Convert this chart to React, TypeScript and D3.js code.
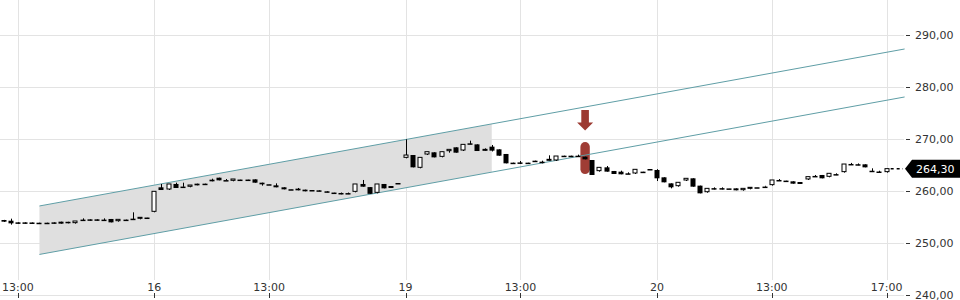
import React from 'react';
import * as d3 from 'd3';

// OHLC candles, 15-minute bars: [open, high, low, close]
// Day 15 (partial, from 12:30)
const day15Start = -21;
const day15: number[][] = [
  [254.42, 254.45, 254.05, 254.10], [254.29, 254.68, 253.53, 253.78], [253.97, 253.97, 253.72, 253.72],
  [253.97, 253.97, 253.72, 253.72], [253.95, 253.95, 253.72, 253.72], [253.90, 253.90, 253.65, 253.65],
  [253.90, 253.90, 253.65, 253.65], [253.97, 253.97, 253.72, 253.72], [254.10, 254.10, 253.72, 253.72],
  [254.08, 254.08, 253.78, 253.80], [253.72, 254.23, 253.72, 254.23], [254.50, 254.74, 254.23, 254.35],
  [254.55, 254.55, 254.29, 254.29], [254.55, 254.55, 254.29, 254.29], [254.50, 254.74, 254.35, 254.35],
  [254.62, 254.62, 253.97, 253.97], [254.10, 254.55, 254.10, 254.55], [254.50, 254.50, 254.30, 254.30],
  [254.68, 255.90, 254.42, 254.42], [254.55, 254.94, 254.55, 254.94], [254.90, 254.90, 254.86, 254.86],
];
// Day 16
const day16Start = 0;
const day16: number[][] = [
  [255.90, 259.94, 255.90, 259.94], [260.71, 261.35, 260.19, 260.19], [260.19, 261.35, 260.19, 261.35],
  [261.35, 261.60, 260.58, 260.58], [260.85, 261.60, 260.80, 260.80], [260.71, 261.15, 260.71, 261.15],
  [261.41, 261.41, 261.09, 261.09], [261.41, 261.41, 261.15, 261.15], [262.18, 262.37, 261.86, 261.86],
  [262.56, 262.56, 262.05, 262.05], [262.10, 262.31, 262.05, 262.05], [261.86, 262.31, 261.86, 262.31],
  [262.20, 262.20, 262.15, 262.15], [262.20, 262.20, 262.15, 262.15], [262.24, 262.24, 261.60, 261.60],
  [261.60, 261.60, 261.03, 261.28], [261.30, 261.30, 261.25, 261.25], [261.09, 261.47, 260.71, 260.71],
  [260.71, 260.71, 260.32, 260.32], [260.34, 260.34, 260.30, 260.30], [260.45, 260.58, 260.13, 260.13],
  [260.26, 260.26, 259.94, 259.94], [260.19, 260.19, 260.00, 260.00], [260.13, 260.13, 259.94, 259.94],
  [259.94, 259.94, 259.74, 259.74], [259.70, 259.70, 259.65, 259.65], [259.62, 259.70, 259.36, 259.42],
  [259.60, 259.70, 259.40, 259.40], [259.74, 261.35, 259.74, 261.35], [261.35, 262.12, 260.83, 260.83],
  [260.75, 260.75, 259.45, 259.45], [259.55, 261.35, 259.55, 261.35], [261.35, 261.35, 260.51, 260.51],
  [260.96, 260.96, 260.58, 260.58], [261.54, 261.54, 261.50, 261.50],
];
// Day 19
const day19Start = 35;
const day19: number[][] = [
  [266.28, 269.94, 266.28, 266.92], [266.92, 266.92, 264.55, 264.55], [264.36, 266.47, 264.36, 266.47],
  [266.92, 267.56, 266.92, 267.56], [267.44, 267.44, 266.47, 266.47], [266.47, 267.56, 266.47, 267.56],
  [267.56, 268.01, 267.37, 268.01], [268.40, 268.40, 267.37, 267.37], [267.69, 268.97, 267.69, 268.97],
  [269.17, 269.68, 269.00, 269.00], [268.97, 268.97, 267.69, 267.69], [267.69, 268.20, 267.69, 268.01],
  [268.53, 268.85, 267.60, 267.76], [268.01, 268.01, 266.79, 266.79], [267.12, 267.12, 265.32, 265.32],
  [265.45, 265.45, 265.25, 265.25], [265.50, 265.77, 265.19, 265.45], [265.45, 265.45, 265.40, 265.40],
  [265.83, 265.83, 265.70, 265.70], [265.64, 265.83, 265.32, 265.55], [265.83, 266.86, 265.83, 266.09],
  [265.77, 266.73, 265.77, 266.73], [266.79, 266.79, 266.70, 266.70], [266.79, 266.79, 266.70, 266.70],
  [266.79, 266.99, 266.70, 266.70], [266.60, 266.60, 266.09, 266.09], [265.96, 265.96, 263.08, 263.08],
  [263.72, 264.55, 263.72, 264.55], [264.55, 264.81, 263.72, 263.72], [263.85, 263.85, 263.27, 263.27],
  [263.72, 263.91, 263.21, 263.21], [263.40, 263.59, 263.25, 263.25], [263.27, 264.17, 263.27, 264.17],
  [263.72, 263.72, 263.68, 263.68], [264.23, 264.23, 264.20, 264.20],
];
// Day 20 (until 17:00)
const day20Start = 70;
const day20: number[][] = [
  [264.04, 264.20, 261.92, 262.44], [262.63, 262.63, 261.67, 261.67], [261.47, 261.47, 260.51, 260.71],
  [260.83, 261.67, 260.83, 261.67], [261.92, 262.44, 261.92, 262.44], [262.44, 262.44, 260.83, 260.83],
  [261.03, 261.03, 259.55, 259.55], [259.67, 260.51, 259.67, 260.51], [260.55, 260.70, 260.30, 260.48],
  [260.55, 260.70, 260.30, 260.48], [260.50, 260.50, 260.48, 260.48], [260.51, 260.51, 260.13, 260.13],
  [260.06, 260.51, 260.06, 260.51], [260.32, 260.71, 260.32, 260.71], [260.72, 260.72, 260.70, 260.70],
  [260.85, 261.00, 260.82, 260.82], [261.03, 262.12, 261.03, 262.12], [262.12, 262.30, 262.10, 262.10],
  [262.00, 262.00, 261.95, 261.95], [261.86, 261.86, 261.41, 261.41], [261.73, 261.73, 261.35, 261.35],
  [262.12, 262.76, 262.12, 262.76], [262.90, 263.08, 262.70, 262.85], [263.08, 263.08, 262.44, 262.44],
  [262.63, 263.40, 262.63, 263.40], [263.25, 263.40, 263.05, 263.20], [263.53, 265.19, 263.53, 265.19],
  [265.20, 265.40, 265.15, 265.15], [265.15, 265.30, 264.95, 265.10], [265.13, 265.13, 264.55, 264.55],
  [263.90, 264.36, 263.85, 263.85], [263.75, 263.90, 263.55, 263.72], [263.53, 264.30, 263.53, 264.30],
];

const timeTickSlots = [-19, 0, 16, 35, 51, 70, 86, 102];
const timeTickLabels = ['13:00', '16', '13:00', '19', '13:00', '20', '13:00', '17:00'];
const priceTicks = [240, 250, 260, 270, 280, 290];
const lastPrice = 264.3;

const channelSlots = [-16, 104.5];
const channelUpper = [257.12, 287.31];
const channelLower = [247.8, 278.08];
const shadeSlots = [-16, 47];
const signalSlot = 60;

const W = 960;
const H = 300;
const FONT = 'DejaVu Sans, sans-serif';

const x = d3.scaleLinear().domain([0, 100]).range([154.3, 872.3]);
const y = d3.scaleLinear().domain([240, 290]).range([295, 35]);
const upperAt = d3.scaleLinear().domain(channelSlots).range(channelUpper);
const lowerAt = d3.scaleLinear().domain(channelSlots).range(channelLower);
const locale = d3.formatLocale({ decimal: ',', thousands: '.', grouping: [3], currency: ['', ''] });
const fmt = locale.format('.2f');

type Candle = { g: number; o: number; h: number; l: number; c: number };
const candles: Candle[] = [
  ...day15.map((d, i) => ({ g: day15Start + i, o: d[0], h: d[1], l: d[2], c: d[3] })),
  ...day16.map((d, i) => ({ g: day16Start + i, o: d[0], h: d[1], l: d[2], c: d[3] })),
  ...day19.map((d, i) => ({ g: day19Start + i, o: d[0], h: d[1], l: d[2], c: d[3] })),
  ...day20.map((d, i) => ({ g: day20Start + i, o: d[0], h: d[1], l: d[2], c: d[3] })),
];

export default function App() {
  const plotRight = 904;
  const bodyW = 5;
  const shade = [
    [x(shadeSlots[0]), y(upperAt(shadeSlots[0]))],
    [x(shadeSlots[1]), y(upperAt(shadeSlots[1]))],
    [x(shadeSlots[1]), y(lowerAt(shadeSlots[1]))],
    [x(shadeSlots[0]), y(lowerAt(shadeSlots[0]))],
  ];
  const sig = candles.find((c) => c.g === signalSlot)!;
  const sx = x(sig.g);
  const sMid = (y(sig.o) + y(sig.c)) / 2;
  const pillTop = sMid - 16;
  const pillBot = sMid + 16;
  const arrowTip = pillTop - 11.5;
  const arrowPath = `M${sx - 3.8},${arrowTip - 20.5} L${sx + 3.8},${arrowTip - 20.5} L${sx + 3.8},${arrowTip - 8} L${sx + 8},${arrowTip - 8} L${sx},${arrowTip} L${sx - 8},${arrowTip - 8} L${sx - 3.8},${arrowTip - 8} Z`;
  const last = candles[candles.length - 1];
  const yp = y(lastPrice);

  return (
    <svg width={W} height={H} style={{ position: 'absolute', left: 0, top: 0, background: '#fff' }}>
      {/* horizontal grid */}
      {priceTicks.map((v) => (
        <line key={'h' + v} x1={0} x2={plotRight} y1={Math.round(y(v)) + 0.5} y2={Math.round(y(v)) + 0.5} stroke="#e3e3e3" />
      ))}
      {/* vertical grid */}
      {timeTickSlots.map((g) => (
        <line key={'v' + g} x1={Math.round(x(g)) + 0.5} x2={Math.round(x(g)) + 0.5} y1={0} y2={280} stroke="#e3e3e3" />
      ))}
      {/* shaded channel zone */}
      <polygon points={shade.map((p) => p.join(',')).join(' ')} fill="#dfdfdf" />
      {/* signal highlight */}
      <rect x={sx - 4.7} y={pillTop} width={9.4} height={pillBot - pillTop} rx={4.7} fill="#9f3d35" />
      <path d={arrowPath} fill="#9c3a31" />
      {/* channel lines */}
      <line x1={x(channelSlots[0])} y1={y(channelUpper[0])} x2={x(channelSlots[1])} y2={y(channelUpper[1])} stroke="#5f9ea6" strokeWidth={1} />
      <line x1={x(channelSlots[0])} y1={y(channelLower[0])} x2={x(channelSlots[1])} y2={y(channelLower[1])} stroke="#5f9ea6" strokeWidth={1} />
      {/* candles */}
      {candles.map((c) => {
        const cx = Math.round(x(c.g));
        const up = c.c > c.o;
        const top = y(Math.max(c.o, c.c));
        const bot = y(Math.min(c.o, c.c));
        const hgt = Math.max(bot - top, 1.5);
        return (
          <g key={c.g}>
            <line x1={cx + 0.5} x2={cx + 0.5} y1={y(c.h)} y2={y(c.l)} stroke="#000" strokeWidth={1} />
            {up ? (
              <rect x={cx - 2} y={top} width={bodyW - 1} height={Math.max(hgt - 1, 1)} fill="#fff" stroke="#000" strokeWidth={1} />
            ) : (
              <rect x={cx - 2.5} y={top} width={bodyW} height={hgt} fill="#000" />
            )}
          </g>
        );
      })}
      {/* last price dashed connector */}
      <line x1={x(last.g) + 4} x2={903} y1={yp} y2={yp} stroke="#000" strokeWidth={1.5} strokeDasharray="3,3" />
      {/* right axis */}
      {priceTicks.map((v) => (
        <g key={'t' + v}>
          <line x1={906} x2={910} y1={Math.round(y(v)) + 0.5} y2={Math.round(y(v)) + 0.5} stroke="#333" />
          <text x={915} y={y(v)} dy="0.36em" fontFamily={FONT} fontSize={11} fill="#333">{fmt(v)}</text>
        </g>
      ))}
      {/* last price tag */}
      <path d={`M905,${yp} L912,${yp - 9} L960,${yp - 9} L960,${yp + 9} L912,${yp + 9} Z`} fill="#000" />
      <text x={916} y={yp} dy="0.36em" fontFamily={FONT} fontSize={11} fill="#fff">{fmt(lastPrice)}</text>
      {/* bottom axis */}
      {timeTickSlots.map((g, i) => (
        <g key={'b' + g}>
          <line x1={Math.round(x(g)) + 0.5} x2={Math.round(x(g)) + 0.5} y1={293} y2={298} stroke="#333" />
          <text x={x(g)} y={291} textAnchor="middle" fontFamily={FONT} fontSize={11} fill="#333">{timeTickLabels[i]}</text>
        </g>
      ))}
    </svg>
  );
}
